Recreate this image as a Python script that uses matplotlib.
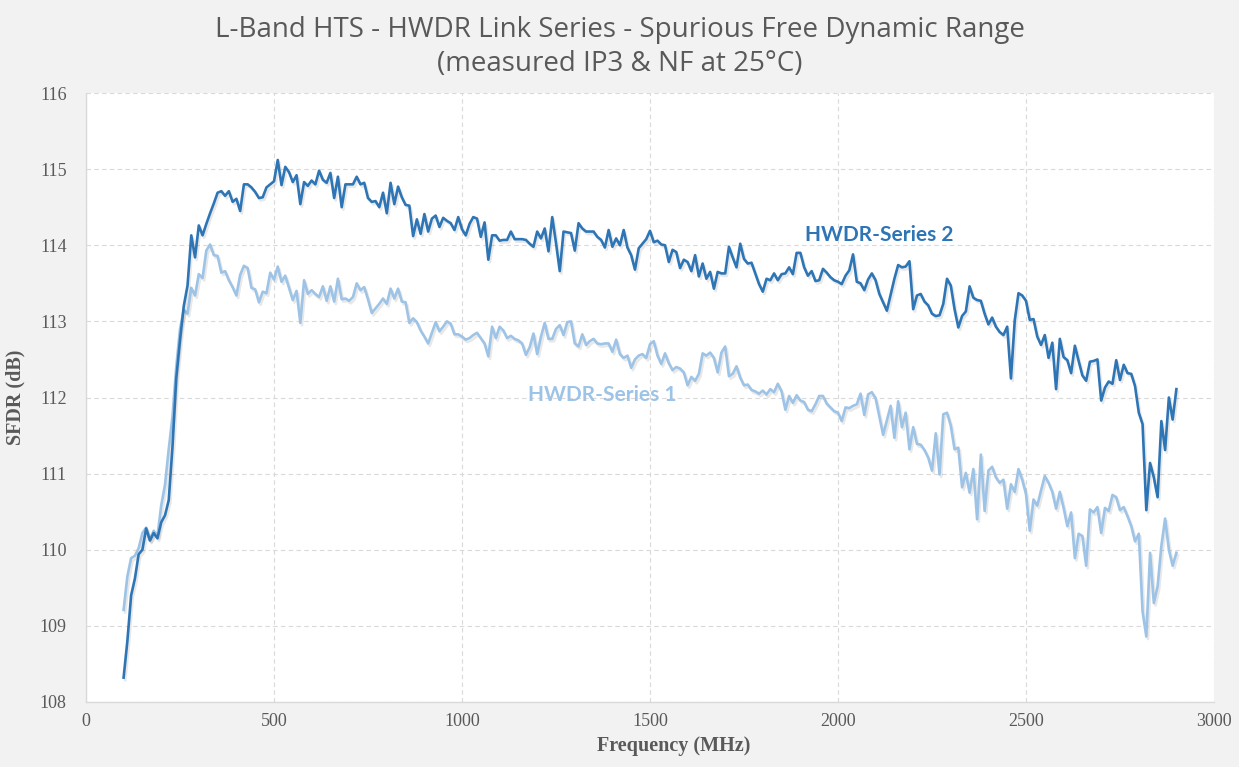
import numpy as np
import matplotlib
matplotlib.use("Agg")
import matplotlib.pyplot as plt
import matplotlib.patheffects as pe

# ===== Data (10 MHz steps) =====
freq_mhz = np.arange(100, 2910, 10)

series2 = [
    108.32, 108.80, 109.40, 109.62, 109.94, 110.00, 110.28, 110.12, 110.22, 110.15,
    110.36, 110.45, 110.65, 111.35, 112.25, 112.75, 113.20, 113.47, 114.13, 113.84,
    114.26, 114.13, 114.28, 114.42, 114.55, 114.69, 114.71, 114.65, 114.71, 114.57,
    114.61, 114.45, 114.80, 114.80, 114.76, 114.70, 114.62, 114.63, 114.76, 114.80,
    114.84, 115.12, 114.79, 115.03, 114.96, 114.83, 114.92, 114.54, 114.83, 114.78,
    114.85, 114.80, 114.98, 114.86, 114.82, 114.95, 114.62, 114.90, 114.50, 114.80,
    114.80, 114.80, 114.90, 114.80, 114.82, 114.62, 114.57, 114.58, 114.50, 114.69,
    114.42, 114.82, 114.54, 114.77, 114.63, 114.53, 114.52, 114.12, 114.34, 114.15,
    114.41, 114.18, 114.35, 114.39, 114.24, 114.36, 114.32, 114.29, 114.20, 114.37,
    114.21, 114.13, 114.28, 114.37, 114.35, 114.11, 114.30, 113.81, 114.13, 114.13,
    114.06, 114.07, 114.07, 114.18, 114.08, 114.08, 114.08, 114.07, 114.02, 113.98,
    114.18, 114.09, 114.22, 113.92, 114.37, 114.03, 113.66, 114.18, 114.17, 114.16,
    113.93, 114.29, 114.22, 114.18, 114.18, 114.18, 114.11, 114.07, 113.97, 114.20,
    113.98, 114.09, 114.00, 114.20, 113.97, 113.87, 113.68, 113.96, 114.02, 114.08,
    114.19, 114.04, 114.06, 114.01, 114.00, 113.78, 113.94, 113.91, 113.70, 113.81,
    113.78, 113.66, 113.87, 113.59, 113.76, 113.56, 113.65, 113.43, 113.65, 113.63,
    113.63, 113.98, 113.84, 113.71, 114.02, 113.82, 113.76, 113.77, 113.63, 113.49,
    113.39, 113.56, 113.54, 113.63, 113.54, 113.62, 113.63, 113.71, 113.62, 113.90,
    113.90, 113.71, 113.60, 113.66, 113.53, 113.54, 113.69, 113.64, 113.58, 113.54,
    113.52, 113.49, 113.60, 113.67, 113.88, 113.52, 113.50, 113.41, 113.55, 113.63,
    113.54, 113.36, 113.25, 113.14, 113.35, 113.56, 113.74, 113.71, 113.72, 113.79,
    113.16, 113.34, 113.36, 113.26, 113.21, 113.10, 113.07, 113.08, 113.23, 113.56,
    113.47, 113.16, 112.92, 113.07, 113.13, 113.46, 113.31, 113.28, 113.27, 113.10,
    112.96, 113.05, 112.93, 112.86, 112.82, 112.93, 112.25, 113.01, 113.37, 113.34,
    113.27, 113.02, 113.03, 112.80, 112.69, 112.82, 112.52, 112.72, 112.11, 112.77,
    112.53, 112.49, 112.32, 112.68, 112.48, 112.29, 112.22, 112.47, 112.48, 112.50,
    111.96, 112.13, 112.21, 112.18, 112.49, 112.23, 112.43, 112.32, 112.31, 112.15,
    111.80, 111.65, 110.52, 111.14, 110.95, 110.69, 111.69, 111.31, 112.00, 111.71,
    112.11,
]

series1 = [
    109.21, 109.65, 109.89, 109.92, 110.02, 110.22, 110.29, 110.13, 110.25, 110.18,
    110.58, 110.85, 111.32, 111.75, 112.40, 112.90, 113.15, 113.10, 113.44, 113.34,
    113.62, 113.57, 113.93, 114.01, 113.87, 113.86, 113.64, 113.66, 113.54, 113.45,
    113.34, 113.61, 113.73, 113.70, 113.44, 113.42, 113.25, 113.39, 113.37, 113.64,
    113.55, 113.72, 113.52, 113.60, 113.44, 113.28, 113.40, 112.98, 113.54, 113.36,
    113.41, 113.36, 113.32, 113.46, 113.27, 113.46, 113.26, 113.56, 113.29, 113.30,
    113.27, 113.32, 113.50, 113.41, 113.45, 113.29, 113.11, 113.17, 113.23, 113.30,
    113.23, 113.43, 113.30, 113.43, 113.26, 113.25, 112.98, 113.04, 112.99, 112.88,
    112.80, 112.71, 112.85, 112.99, 112.87, 112.93, 113.00, 112.97, 112.83, 112.83,
    112.80, 112.76, 112.78, 112.82, 112.85, 112.78, 112.71, 112.54, 112.93, 112.78,
    112.93, 112.88, 112.78, 112.81, 112.77, 112.75, 112.71, 112.56, 112.66, 112.84,
    112.57, 112.80, 112.98, 112.77, 112.77, 112.90, 112.95, 112.82, 112.99, 113.00,
    112.71, 112.67, 112.83, 112.69, 112.74, 112.77, 112.71, 112.70, 112.71, 112.71,
    112.60, 112.76, 112.57, 112.52, 112.55, 112.39, 112.50, 112.55, 112.57, 112.52,
    112.70, 112.74, 112.55, 112.44, 112.58, 112.45, 112.36, 112.40, 112.38, 112.33,
    112.16, 112.27, 112.22, 112.31, 112.58, 112.55, 112.59, 112.52, 112.33, 112.59,
    112.67, 112.28, 112.31, 112.41, 112.26, 112.16, 112.17, 112.10, 112.08, 112.05,
    112.09, 112.04, 112.11, 112.07, 112.18, 112.08, 111.84, 112.02, 111.93, 112.03,
    111.96, 111.94, 111.84, 111.82, 111.91, 112.02, 112.02, 111.92, 111.87, 111.82,
    111.80, 111.69, 111.87, 111.86, 111.89, 111.91, 112.05, 111.77, 112.04, 112.07,
    111.99, 111.75, 111.51, 111.70, 111.89, 111.47, 111.95, 111.61, 111.80, 111.32,
    111.61, 111.39, 111.38, 111.31, 111.21, 111.04, 111.53, 110.99, 111.78, 111.80,
    111.63, 111.32, 111.34, 110.82, 111.01, 110.75, 111.06, 110.40, 111.25, 110.51,
    111.04, 111.09, 110.95, 110.88, 110.92, 110.54, 110.86, 110.76, 111.06, 110.92,
    110.73, 110.25, 110.66, 110.58, 110.78, 110.97, 110.88, 110.76, 110.54, 110.76,
    110.55, 110.31, 110.49, 109.89, 110.21, 110.18, 109.79, 110.53, 110.49, 110.56,
    110.22, 110.55, 110.51, 110.72, 110.69, 110.52, 110.56, 110.44, 110.31, 110.11,
    110.21, 109.19, 108.86, 109.96, 109.30, 109.52, 110.05, 110.41, 110.00, 109.79,
    109.96,
]

assert len(series1) == len(freq_mhz) == len(series2)

x_ticks = [0, 500, 1000, 1500, 2000, 2500, 3000]
y_ticks = [108, 109, 110, 111, 112, 113, 114, 115, 116]

DARK = "#2e75b6"
LIGHT = "#9dc3e6"
GREY = "#595959"

# ===== Figure =====
fig = plt.figure(figsize=(12.39, 7.67), dpi=100, facecolor="#f2f2f2")
ax = fig.add_axes([86 / 1239, 1 - 702 / 767, 1128 / 1239, 609 / 767])
ax.set_facecolor("white")

# soft drop shadow under the lines
shadow = [pe.SimpleLineShadow(offset=(1.2, -1.8), shadow_color="black", alpha=0.09),
          pe.Normal()]
ax.plot(freq_mhz, series1, color=LIGHT, lw=1.9, path_effects=shadow, zorder=3)
ax.plot(freq_mhz, series2, color=DARK, lw=1.9, path_effects=shadow, zorder=4)

ax.text(1912, 114.14, "HWDR-Series 2", color=DARK, fontsize=15, fontweight="bold",
        family="Lato", va="center", ha="left")
ax.text(1176, 112.03, "HWDR-Series 1", color=LIGHT, fontsize=15, fontweight="bold",
        family="Lato", va="center", ha="left")

ax.set_xlim(0, 3000)
ax.set_ylim(108, 116)
ax.set_xticks(x_ticks)
ax.set_yticks(y_ticks)
ax.tick_params(length=0, labelsize=13, labelcolor=GREY)
ax.tick_params(axis="x", pad=8)
ax.tick_params(axis="y", pad=14)
for lab in ax.get_xticklabels() + ax.get_yticklabels():
    lab.set_family("Liberation Serif")

ax.grid(True, color="#d9d9d9", ls=(0, (4, 3)), lw=0.8)
ax.set_axisbelow(True)
for side in ["top", "right"]:
    ax.spines[side].set_visible(False)
for side in ["left", "bottom"]:
    ax.spines[side].set_color("#d9d9d9")
    ax.spines[side].set_linewidth(1.0)

ax.set_xlabel("Frequency (MHz)", family="Liberation Serif", fontweight="bold",
              fontsize=14.5, color=GREY, va="center")
ax.xaxis.set_label_coords((674 - 86) / 1128, -(746 - 702) / 609)
ax.set_ylabel("SFDR (dB)", family="Liberation Serif", fontweight="bold",
              fontsize=14.5, color=GREY, labelpad=10)

fig.text(0.5, 1 - 30 / 767, "L-Band HTS - HWDR Link Series - Spurious Free Dynamic Range",
         ha="center", va="center", fontsize=20, color=GREY, family="Open Sans")
fig.text(0.5, 1 - 64 / 767, "(measured IP3 & NF at 25°C)",
         ha="center", va="center", fontsize=20, color=GREY, family="Open Sans")

fig.savefig("out.png", dpi=100, facecolor=fig.get_facecolor())
